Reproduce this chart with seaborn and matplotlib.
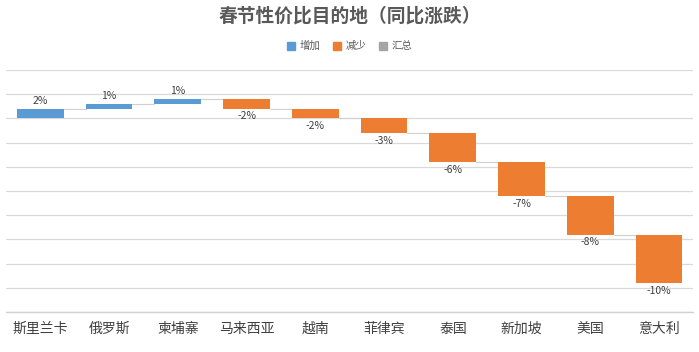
import matplotlib
matplotlib.use("Agg")
import matplotlib.pyplot as plt
from matplotlib.patches import Patch
import seaborn as sns
import numpy as np
import pandas as pd

countries = ["斯里兰卡", "俄罗斯", "柬埔寨", "马来西亚", "越南",
             "菲律宾", "泰国", "新加坡", "美国", "意大利"]
changes = [2, 1, 1, -2, -2, -3, -6, -7, -8, -10]
legend_labels = ["增加", "减少", "汇总"]

BLUE = "#5B9BD5"
ORANGE = "#ED7D31"
GREY = "#A5A5A5"

sns.set_theme(style="white")
plt.rcParams["font.family"] = ["Noto Sans CJK SC", "DejaVu Sans"]

ends = np.cumsum(changes)
starts = ends - np.array(changes)
df = pd.DataFrame({"country": countries, "change": changes, "start": starts, "end": ends})

fig = plt.figure(figsize=(6.99, 3.52), dpi=100)
ax = fig.add_axes([6 / 699, 1 - 312 / 352, 687.5 / 699, 242 / 352])

sns.barplot(data=df, x="country", y="change", bottom=df["start"], width=0.68,
            color=BLUE, saturation=1, ax=ax, zorder=3)
for p, v in zip(ax.patches, changes):
    p.set_facecolor(BLUE if v > 0 else ORANGE)
    p.set_edgecolor("none")

# connector lines between bars
for i in range(len(countries) - 1):
    ax.plot([i + 0.34, i + 1 - 0.34], [ends[i], ends[i]], color="#D0D0D0", lw=0.8, zorder=2)

# value labels
for i, (v, e) in enumerate(zip(changes, ends)):
    if v > 0:
        ax.annotate(f"{v}%", (i, e), xytext=(0, 2), textcoords="offset points",
                    ha="center", va="bottom", fontsize=7.5, color="#404040")
    else:
        ax.annotate(f"{v}%", (i, e), xytext=(0, -2), textcoords="offset points",
                    ha="center", va="top", fontsize=7.5, color="#404040")

ax.set_ylim(-40, 10)
ax.set_xlim(-0.5, len(countries) - 0.5)
ax.set_yticks(np.arange(-40, 11, 5))
ax.yaxis.grid(True, color="#D9D9D9", lw=0.9, zorder=0)
ax.set_yticklabels([])
ax.tick_params(axis="y", length=0)
ax.tick_params(axis="x", length=0, labelsize=10, colors="#404040", pad=7)
ax.set_xlabel("")
ax.set_ylabel("")
sns.despine(ax=ax, left=True, top=True, right=True, bottom=True)
ax.axhline(-40, color="#D0D0D0", lw=1.0, clip_on=False, zorder=1)

fig.text(0.5, 1 - 16 / 352, "春节性价比目的地（同比涨跌）", ha="center", va="center",
         fontsize=13.5, fontweight="bold", color="#595959")

handles = [Patch(color=c) for c in (BLUE, ORANGE, GREY)]
fig.legend(handles, legend_labels, loc="center", bbox_to_anchor=(0.5, 1 - 46 / 352),
           ncol=3, frameon=False, fontsize=7.5, handlelength=0.8, handleheight=0.8,
           handletextpad=0.4, columnspacing=1.2, labelcolor="#595959")

fig.savefig("out.png", dpi=100)
